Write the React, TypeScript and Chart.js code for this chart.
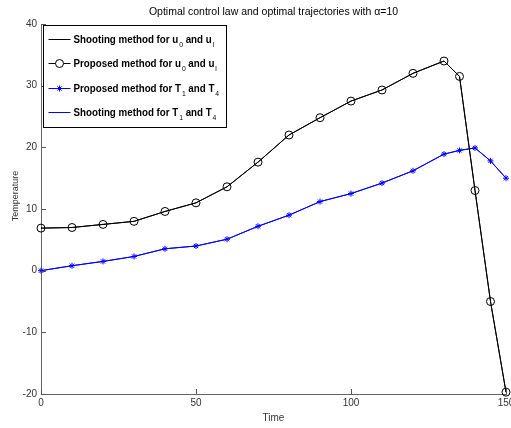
import React, { useEffect, useRef } from 'react';
import { Chart, registerables } from 'chart.js';

Chart.register(...registerables);

// ---- data ----
const timePoints = [0, 10, 20, 30, 40, 50, 60, 70, 80, 90, 100, 110, 120, 130, 135, 140, 145, 150];
const controlShooting = [6.9, 7.0, 7.5, 8.0, 9.6, 11.0, 13.6, 17.6, 22.0, 24.8, 27.5, 29.3, 32.0, 34.0, 31.5, 13.0, -5.0, -19.7];
const controlProposed = [6.9, 7.0, 7.5, 8.0, 9.6, 11.0, 13.6, 17.6, 22.0, 24.8, 27.5, 29.3, 32.0, 34.0, 31.5, 13.0, -5.0, -19.7];
const tempProposed = [0.0, 0.8, 1.5, 2.3, 3.55, 4.0, 5.1, 7.2, 9.0, 11.2, 12.5, 14.2, 16.2, 18.9, 19.5, 19.9, 17.8, 15.0];
const tempShooting = [0.0, 0.8, 1.5, 2.3, 3.55, 4.0, 5.1, 7.2, 9.0, 11.2, 12.5, 14.2, 16.2, 18.9, 19.5, 19.9, 17.8, 15.0];

const xTicks = [0, 50, 100, 150];
const yTicks = [-20, -10, 0, 10, 20, 30, 40];

const chartTitle = 'Optimal control law and optimal trajectories with \u03B1=10';
const xTitle = 'Time';
const yTitle = 'Temperature';

// legend labels: [text, subscript] pairs
const legendShootingU: [string, string][] = [['Shooting method for u', '0'], [' and u', 'l']];
const legendProposedU: [string, string][] = [['Proposed method for u', '0'], [' and u', 'l']];
const legendProposedT: [string, string][] = [['Proposed method for T', '1'], [' and T', '4']];
const legendShootingT: [string, string][] = [['Shooting method for T', '1'], [' and T', '4']];

const FONT = "'Liberation Sans', Arial, sans-serif";
const BLUE = '#0000ff';

type LegendItem = { parts: [string, string][]; color: string; marker: 'none' | 'circle' | 'star' };
const legendItems: LegendItem[] = [
  { parts: legendShootingU, color: '#000000', marker: 'none' },
  { parts: legendProposedU, color: '#000000', marker: 'circle' },
  { parts: legendProposedT, color: BLUE, marker: 'star' },
  { parts: legendShootingT, color: BLUE, marker: 'none' },
];

function drawStar(ctx: CanvasRenderingContext2D, x: number, y: number, r: number) {
  ctx.beginPath();
  for (let i = 0; i < 4; i++) {
    const a = (i * Math.PI) / 4;
    ctx.moveTo(x + Math.cos(a) * r, y + Math.sin(a) * r);
    ctx.lineTo(x - Math.cos(a) * r, y - Math.sin(a) * r);
  }
  ctx.stroke();
}

const inwardTicks = {
  id: 'inwardTicks',
  afterDraw(chart: any) {
    const { ctx, chartArea } = chart;
    const xs = chart.scales.x;
    const ys = chart.scales.y;
    ctx.save();
    ctx.strokeStyle = '#555';
    ctx.lineWidth = 1;
    ys.ticks.forEach((t: any) => {
      const py = Math.round(ys.getPixelForValue(t.value)) + 0.5;
      ctx.beginPath();
      ctx.moveTo(chartArea.left, py);
      ctx.lineTo(chartArea.left + 5, py);
      ctx.stroke();
    });
    xs.ticks.forEach((t: any) => {
      const px = Math.round(xs.getPixelForValue(t.value)) + 0.5;
      ctx.beginPath();
      ctx.moveTo(px, chartArea.bottom);
      ctx.lineTo(px, chartArea.bottom - 5);
      ctx.stroke();
    });
    // y axis title, placed a little above the plot centre as in the original
    ctx.save();
    ctx.translate(15.5, (chartArea.top + chartArea.bottom) / 2 - 13);
    ctx.rotate(-Math.PI / 2);
    ctx.fillStyle = '#333';
    ctx.font = `9px ${FONT}`;
    ctx.textAlign = 'center';
    ctx.textBaseline = 'middle';
    ctx.fillText(yTitle, 0, 0);
    ctx.restore();
    ctx.restore();
  },
};

const matlabLegend = {
  id: 'matlabLegend',
  afterDraw(chart: any) {
    const { ctx, chartArea } = chart;
    const x0 = chartArea.left + 2.5;
    const y0 = chartArea.top + 1.5;
    const w = 183;
    const h = 102;
    ctx.save();
    ctx.fillStyle = '#fff';
    ctx.fillRect(x0, y0, w, h);
    ctx.strokeStyle = '#000';
    ctx.lineWidth = 1;
    ctx.strokeRect(x0, y0, w, h);
    const rowH = 24.5;
    const squeeze = 0.85;
    legendItems.forEach((item, i) => {
      const cy = Math.round(y0 + 13 + i * rowH) + 0.5;
      const lx1 = x0 + 5;
      const lx2 = x0 + 27;
      ctx.strokeStyle = item.color;
      ctx.lineWidth = 1;
      ctx.beginPath();
      ctx.moveTo(lx1, cy);
      ctx.lineTo(lx2, cy);
      ctx.stroke();
      const mx = (lx1 + lx2) / 2;
      if (item.marker === 'circle') {
        ctx.fillStyle = '#fff';
        ctx.beginPath();
        ctx.arc(mx, cy, 4, 0, Math.PI * 2);
        ctx.fill();
        ctx.stroke();
      } else if (item.marker === 'star') {
        drawStar(ctx, mx, cy, 3);
      }
      ctx.save();
      ctx.translate(x0 + 30, 0);
      ctx.scale(squeeze, 1);
      let tx = 0;
      ctx.fillStyle = '#000';
      ctx.textBaseline = 'middle';
      ctx.textAlign = 'left';
      item.parts.forEach(([txt, sub]) => {
        ctx.font = `bold 11.5px ${FONT}`;
        ctx.fillText(txt, tx, cy);
        tx += ctx.measureText(txt).width + 1;
        ctx.font = `8px ${FONT}`;
        ctx.fillText(sub, tx, cy + 5);
        tx += ctx.measureText(sub).width;
      });
      ctx.restore();
    });
    ctx.restore();
  },
};

export default function App() {
  const ref = useRef<HTMLCanvasElement>(null);
  useEffect(() => {
    document.body.style.margin = '0';
    const canvas = ref.current;
    if (!canvas) return;
    const toXY = (ys: number[]) => timePoints.map((t, i) => ({ x: t, y: ys[i] }));
    const tickFont = { family: FONT, size: 10 };
    const chart = new Chart(canvas, {
      type: 'line',
      data: {
        datasets: [
          {
            label: 'Shooting method for u0 and ul',
            data: toXY(controlShooting),
            borderColor: '#000',
            borderWidth: 1,
            pointRadius: 0,
            clip: false as any,
          },
          {
            label: 'Proposed method for u0 and ul',
            data: toXY(controlProposed),
            borderColor: '#000',
            borderWidth: 1,
            pointStyle: 'circle',
            pointRadius: 4,
            pointBorderWidth: 1,
            pointBorderColor: '#000',
            pointBackgroundColor: 'rgba(0,0,0,0)',
            clip: false as any,
          },
          {
            label: 'Proposed method for T1 and T4',
            data: toXY(tempProposed),
            borderColor: BLUE,
            borderWidth: 1,
            pointStyle: 'star',
            pointRadius: 3,
            pointBorderWidth: 1,
            pointBorderColor: BLUE,
            pointBackgroundColor: BLUE,
            clip: false as any,
          },
          {
            label: 'Shooting method for T1 and T4',
            data: toXY(tempShooting),
            borderColor: BLUE,
            borderWidth: 1,
            pointRadius: 0,
            clip: false as any,
          },
        ],
      },
      options: {
        responsive: false,
        animation: false,
        devicePixelRatio: 1,
        layout: { padding: { left: 0, right: 2, top: 0, bottom: 0 } },
        plugins: {
          legend: { display: false },
          tooltip: { enabled: false },
          title: {
            display: true,
            text: chartTitle,
            fullSize: false,
            color: '#000',
            font: { family: FONT, size: 10.5, weight: 'normal' },
            padding: { top: 5.5, bottom: 5.9 },
          },
        },
        scales: {
          x: {
            type: 'linear',
            min: 0,
            max: 150,
            afterBuildTicks: (s: any) => {
              s.ticks = xTicks.map((v) => ({ value: v }));
            },
            afterFit: (s: any) => {
              s.height = 34;
              s.paddingLeft = 0;
              s.paddingRight = 0;
            },
            ticks: { color: '#333', font: tickFont, padding: 3, maxRotation: 0, autoSkip: false },
            grid: { display: false, drawTicks: false },
            border: { display: true, color: '#666' },
            title: { display: true, text: xTitle, color: '#333', font: tickFont, padding: { top: 0, bottom: 4 } },
          },
          y: {
            type: 'linear',
            min: -20,
            max: 40,
            afterBuildTicks: (s: any) => {
              s.ticks = yTicks.map((v) => ({ value: v }));
            },
            afterFit: (s: any) => {
              s.width = 41;
              s.paddingTop = 0;
              s.paddingBottom = 0;
            },
            ticks: { color: '#333', font: tickFont, padding: 4, autoSkip: false },
            grid: { display: false, drawTicks: false },
            border: { display: true, color: '#666' },
            title: { display: false },
          },
        },
      } as any,
      plugins: [inwardTicks, matlabLegend],
    });
    return () => chart.destroy();
  }, []);
  return (
    <div style={{ position: 'absolute', left: 0, top: 0, width: 511, height: 428, background: '#fff' }}>
      <canvas ref={ref} width={511} height={428} />
    </div>
  );
}
